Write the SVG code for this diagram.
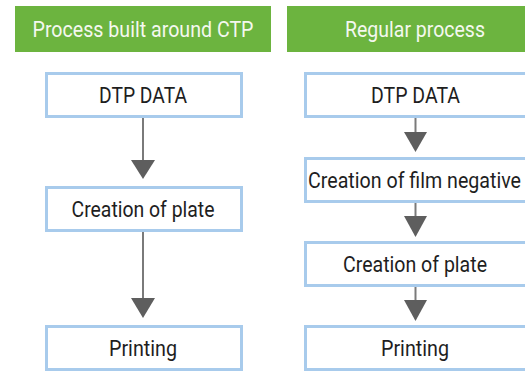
<svg xmlns="http://www.w3.org/2000/svg" width="525" height="372" viewBox="0 0 525 372">
<style>
.hdr{fill:#6cb43f}
.htxt{font-family:Roboto,"Liberation Sans",sans-serif;font-size:22.5px;fill:#f4f8ef;text-anchor:middle}
.box{fill:#ffffff;stroke:#a8cbec;stroke-width:3}
.btxt{font-family:Roboto,"Liberation Sans",sans-serif;font-size:22.5px;fill:#1e1e1e;text-anchor:middle}
.ln{stroke:#7a7a7a;stroke-width:2;fill:none}
.ah{fill:#5e5e5e}
</style>
<rect width="525" height="372" fill="#ffffff"/>
<g id="header-ctp">
<rect class="hdr" x="15" y="6" width="256" height="46"/>
<text class="htxt" x="143" y="36.5" textLength="221" lengthAdjust="spacingAndGlyphs">Process built around CTP</text>
</g>
<g id="header-regular">
<rect class="hdr" x="287" y="6" width="238" height="46"/>
<text class="htxt" x="415" y="36.5" textLength="140" lengthAdjust="spacingAndGlyphs">Regular process</text>
</g>
<g id="connectors">
<line class="ln" x1="143" y1="118" x2="143" y2="161"/>
<polygon class="ah" points="131,160 155,160 143,179"/>
<line class="ln" x1="143" y1="232" x2="143" y2="299"/>
<polygon class="ah" points="131,298 155,298 143,318"/>
<line class="ln" x1="415.5" y1="118" x2="415.5" y2="133"/>
<polygon class="ah" points="404,132 427,132 415.5,152"/>
<line class="ln" x1="415.5" y1="203" x2="415.5" y2="217"/>
<polygon class="ah" points="404,216 427,216 415.5,237"/>
<line class="ln" x1="415.5" y1="287" x2="415.5" y2="301"/>
<polygon class="ah" points="404,300 427,300 415.5,321"/>
</g>
<g id="ctp-dtp">
<rect class="box" x="46.5" y="73.5" width="195" height="43"/>
<text class="btxt" x="143" y="102.5" textLength="88" lengthAdjust="spacingAndGlyphs">DTP DATA</text>
</g>
<g id="ctp-plate">
<rect class="box" x="46.5" y="187.5" width="195" height="43"/>
<text class="btxt" x="143" y="217" textLength="143" lengthAdjust="spacingAndGlyphs">Creation of plate</text>
</g>
<g id="ctp-printing">
<rect class="box" x="46.5" y="326.5" width="195" height="43"/>
<text class="btxt" x="143" y="355.5" textLength="68" lengthAdjust="spacingAndGlyphs">Printing</text>
</g>
<g id="reg-dtp">
<rect class="box" x="305.5" y="73.5" width="225" height="43"/>
<text class="btxt" x="415.5" y="102.5" textLength="89" lengthAdjust="spacingAndGlyphs">DTP DATA</text>
</g>
<g id="reg-film">
<rect class="box" x="305.5" y="158.5" width="225" height="43"/>
<text class="btxt" x="414.5" y="188" textLength="213" lengthAdjust="spacingAndGlyphs">Creation of film negative</text>
</g>
<g id="reg-plate">
<rect class="box" x="305.5" y="242.5" width="225" height="43"/>
<text class="btxt" x="415" y="272" textLength="144" lengthAdjust="spacingAndGlyphs">Creation of plate</text>
</g>
<g id="reg-printing">
<rect class="box" x="305.5" y="326.5" width="225" height="43"/>
<text class="btxt" x="415" y="355.5" textLength="68" lengthAdjust="spacingAndGlyphs">Printing</text>
</g>
</svg>
